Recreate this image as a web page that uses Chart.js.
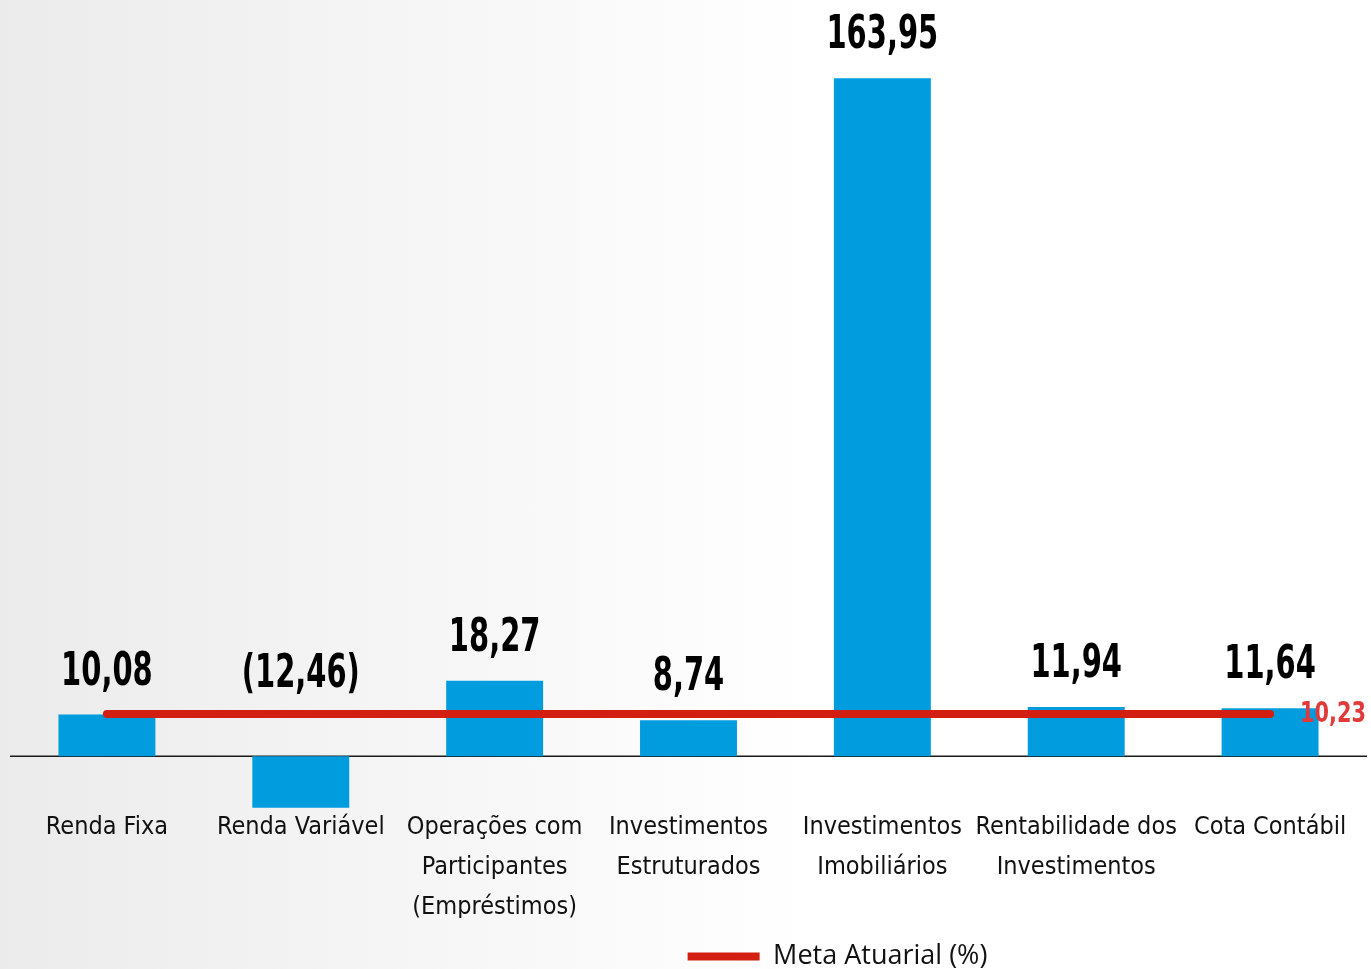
<!DOCTYPE html>
<html>
<head>
<meta charset="utf-8">
<script src="https://cdn.jsdelivr.net/npm/chart.js@4"></script>
<style>
  html, body { margin:0; padding:0; }
  body { width:1371px; height:969px; background: linear-gradient(90deg, #ebebeb 0%, #f7f7f7 35%, #ffffff 60%, #ffffff 100%); }
  #wrap { position:relative; width:1371px; height:969px; }
</style>
</head>
<body>
<div id="wrap"><canvas id="chart" width="1371" height="969"></canvas></div>
<script>
// data
const categories = [
  'Renda Fixa',
  'Renda Variável',
  ['Operações com', 'Participantes', '(Empréstimos)'],
  ['Investimentos', 'Estruturados'],
  ['Investimentos', 'Imobiliários'],
  ['Rentabilidade dos', 'Investimentos'],
  'Cota Contábil'
];
const retorno = [10.08, -12.46, 18.27, 8.74, 163.95, 11.94, 11.64];
const metaAtuarial = [10.23, 10.23, 10.23, 10.23, 10.23, 10.23, 10.23];
const metaLabel = 'Meta Atuarial (%)';

const NARROW = '"Liberation Sans Narrow", "DejaVu Sans Condensed", sans-serif';

function fmt(v){
  const s = Math.abs(v).toFixed(2).replace('.', ',');
  return v < 0 ? '(' + s + ')' : s;
}

// text squeezed horizontally to look like a condensed face
function narrowText(ctx, txt, x, y, sx){
  ctx.save();
  ctx.translate(x, y);
  ctx.scale(sx, 1);
  ctx.fillText(txt, 0, 0);
  ctx.restore();
}

// zero line + value labels
const labelsPlugin = {
  id: 'labels',
  afterLayout(chart){
    // legend sits a bit right of centre and lower in the original
    const lg = chart.legend;
    if (!lg) return;
    lg.left += 149; lg.right += 149;
    lg.top += 25; lg.bottom += 25;
  },
  beforeDatasetsDraw(chart){
    const ctx = chart.ctx, y = chart.scales.y, a = chart.chartArea;
    const y0 = y.getPixelForValue(0);
    ctx.save();
    ctx.strokeStyle = '#1a1a1a';
    ctx.lineWidth = 1.5;
    ctx.beginPath();
    ctx.moveTo(a.left, y0); ctx.lineTo(a.right, y0);
    ctx.stroke();
    ctx.restore();
  },
  afterDatasetsDraw(chart){
    const ctx = chart.ctx, y = chart.scales.y;
    const bars = chart.getDatasetMeta(0).data;
    ctx.save();
    ctx.textAlign = 'center';
    ctx.textBaseline = 'middle';
    ctx.fillStyle = '#000';
    ctx.font = 'bold 46px ' + NARROW;
    retorno.forEach((v, i) => {
      const py = v >= 0 ? y.getPixelForValue(v) - 42 : y.getPixelForValue(0) - 81;
      narrowText(ctx, fmt(v), bars[i].x, py, 0.7);
    });
    // meta label at end of line
    const pts = chart.getDatasetMeta(1).data;
    const last = pts[pts.length - 1];
    ctx.textAlign = 'left';
    ctx.fillStyle = '#e03a3a';
    ctx.font = 'bold 29px ' + NARROW;
    narrowText(ctx, fmt(metaAtuarial[metaAtuarial.length - 1]), last.x + 30, last.y, 0.8);
    ctx.restore();
  }
};

new Chart(document.getElementById('chart'), {
  data: {
    labels: categories,
    datasets: [
      { type:'bar', label:'Retorno', data: retorno, backgroundColor:'#009cde',
        barPercentage: 1.0, categoryPercentage: 0.5, order: 2 },
      { type:'line', label: metaLabel, data: metaAtuarial, borderColor:'#d21f12', backgroundColor:'#d21f12',
        borderWidth: 8, borderCapStyle:'round', pointRadius: 0, pointStyle:'line', order: 1 }
    ]
  },
  options: {
    responsive: false,
    animation: false,
    devicePixelRatio: 1,
    layout: { padding: { top: 78, left: 10, right: 4, bottom: 14 } },
    scales: {
      x: {
        grid: { display:false },
        border: { display:false },
        ticks: { color:'#111', font:{ family: NARROW, size: 25, lineHeight: '40px' }, padding: -9, maxRotation: 0, autoSkip: false }
      },
      y: { display:false, min: -12.5, max: 164 }
    },
    plugins: {
      legend: {
        position:'bottom',
        labels: {
          filter: (item) => item.datasetIndex === 1,
          usePointStyle: true, pointStyleWidth: 72, boxHeight: 20,
          color:'#111', font:{ family:'"Open Sans", sans-serif', size: 27 }, padding: 0
        }
      },
      tooltip: { enabled:false }
    }
  },
  plugins: [labelsPlugin]
});
</script>
</body>
</html>
